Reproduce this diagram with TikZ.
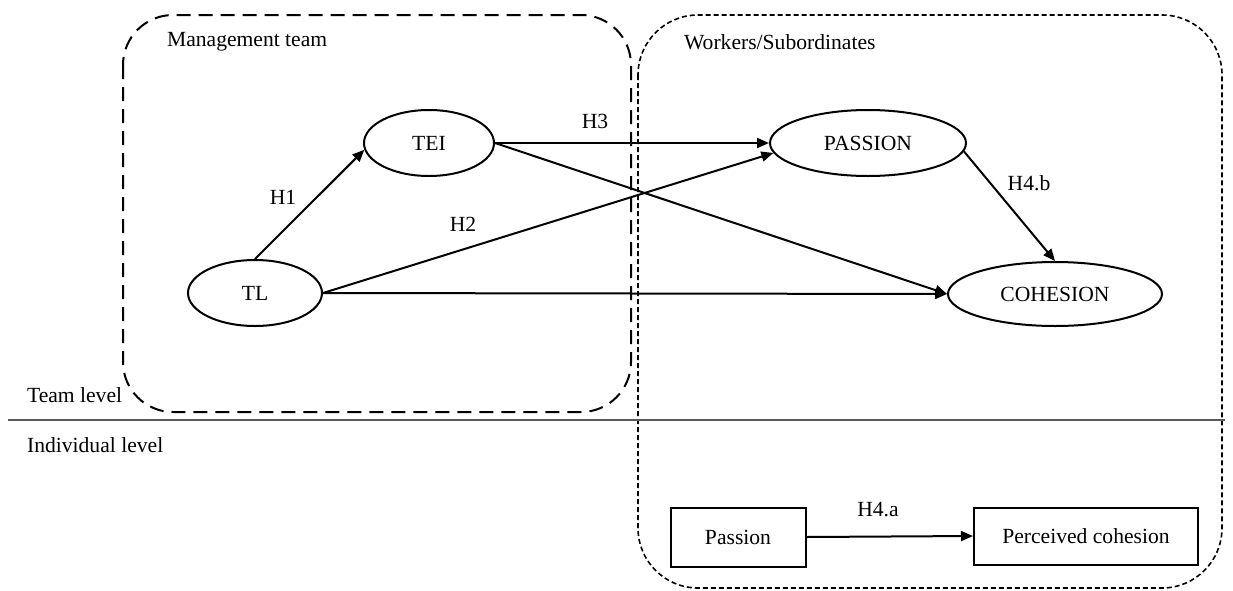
\documentclass[tikz,border=0pt]{standalone}
\usepackage{fontspec}
\setmainfont{Liberation Serif}
\usepackage{tikz}
\usetikzlibrary{positioning}
\usetikzlibrary{arrows.meta,shapes}

\begin{document}
\begin{tikzpicture}[x=0.5pt, y=-0.5pt, font=\fontsize{10.8}{13}\selectfont,
    latent/.style={ellipse, draw, line width=1pt, inner sep=0pt, minimum height=33pt},
    observed/.style={rectangle, draw, line width=1pt, inner sep=0pt},
    hyp/.style={-{Triangle[length=6pt,width=5pt]}, line width=1pt}]
    % page size
    \useasboundingbox (0,0) rectangle (1233,590);

    % the two groups
    \draw[line width=1pt, dash pattern=on 7pt off 4pt, rounded corners=25pt] (123,15) rectangle (631,412);
    \draw[line width=0.8pt, dash pattern=on 2.5pt off 1.5pt, rounded corners=30pt] (638,15) rectangle (1222,588);

    % levels
    \coordinate (lvlL) at (8,420);
    \coordinate (lvlR) at (1225,420);
    \draw[gray!70!black, line width=0.8pt] (lvlL) -- (lvlR);

    \node[anchor=west] (mgmt) at (160,42) {Management team};
    \node[anchor=west] (work) at (677,42) {Workers/Subordinates};
    \node[anchor=west] (team) at (20,395) {Team level};
    \node[anchor=west] (indiv) at (20,445) {Individual level};

    % team level constructs
    \node[latent, minimum width=65pt] (TEI) at (429,143) {TEI};
    \node[latent, minimum width=98pt] (PASSION) at (868,143) {PASSION};
    \node[latent, minimum width=67pt] (TL) at (255,293) {TL};
    \node[latent, minimum width=107pt, minimum height=32pt] (COHESION) at (1055,294) {COHESION};

    % individual level
    \node[observed, minimum width=67.5pt, minimum height=29.5pt] (pass) at (738,537) {Passion};
    \node[observed, minimum width=112pt, minimum height=28.5pt] (perc) at (1086,536) {Perceived cohesion};

    % hypotheses
    \foreach \x/\y/\name/\id in {283/197/H1/h1, 463/224/H2/h2, 595/121/H3/h3, 1029/183/H4.b/h4b, 878/510/H4.a/h4a}
        \node (\id) at (\x,\y) {\name};

    \draw[hyp] (TL.north) -- (TEI.186);
    \draw[hyp] (TL.east) -- (PASSION.186);
    \draw[hyp] (TL.east) -- (COHESION.west);
    \draw[hyp] (TEI.east) -- (PASSION.west);
    \draw[hyp] (TEI.east) -- (COHESION.west);
    \draw[hyp] (PASSION.-5) -- (COHESION.north);
    \draw[hyp] (pass.east) -- (perc.west);

\end{tikzpicture}
\end{document}
